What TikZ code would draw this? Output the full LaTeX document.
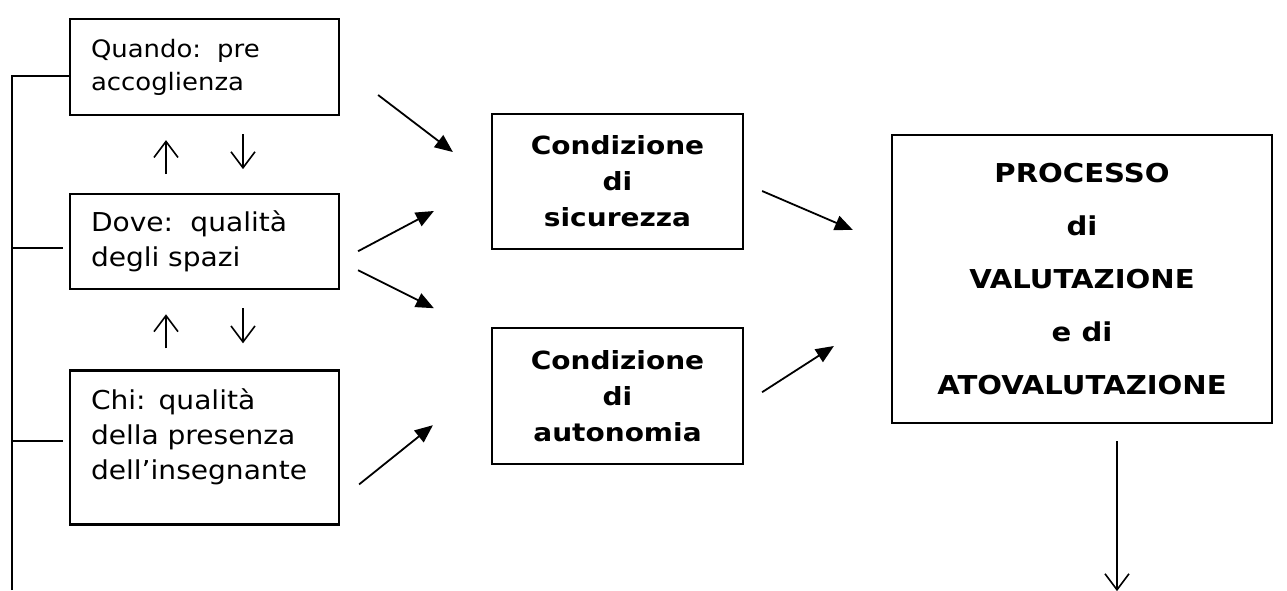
\documentclass[tikz,border=0pt]{standalone}
\usepackage{fontspec}
\setmainfont{DejaVu Sans}[FakeStretch=1.08]
\newfontfamily\headfont{DejaVu Sans Bold}[FakeStretch=1.12]
\newcommand\nohyph{\hyphenpenalty 10000\relax}
\usetikzlibrary{arrows.meta, positioning}
\tikzset {
    node distance=77pt,
    plain box/.style={draw, rectangle, line width=2.2pt, minimum width=269pt,
        text width=227pt, inner xsep=21pt, align=left,
        font=\fontsize{26}{35}\selectfont\nohyph},
    bold box/.style={draw, rectangle, line width=2.2pt, minimum width=251pt,
        minimum height=135pt, align=center,
        font=\headfont\fontsize{25}{36}\selectfont},
    link/.style={-{Triangle[length=18pt,width=15pt]}, line width=1.8pt},
    hint/.style={-{Straight Barb[length=16pt,width=24pt]}, line width=1.6pt},
    bar/.style={line width=1.9pt}
}

\begin{document}
\begin{tikzpicture}[x=1pt, y=-1pt]
    \useasboundingbox (0,0) rectangle (1287,590);

    % left column
    \node[plain box, minimum height=96pt, font=\fontsize{24}{33}\selectfont\nohyph] (quando) at (204.5,67) {Quando:\ \ pre\\accoglienza};
    \node[plain box, minimum height=95pt, below=77pt of quando] (dove) {Dove:\ \ qualità\\degli spazi};
    \node[plain box, minimum height=154pt, text depth=96pt, below=79pt of dove] (chi) {Chi: qualità\\della presenza\\dell’insegnante};

    % conditions
    \node[bold box] (sicurezza) at (617.5,181.5) {Condizione\\di\\sicurezza};
    \node[bold box, minimum height=136pt, below=77pt of sicurezza] (autonomia) {Condizione\\di\\autonomia};

    \node[bold box, minimum width=380pt, minimum height=288pt,
          font=\headfont\fontsize{26}{53}\selectfont] (processo) at (1082,279)
          {PROCESSO\\di\\VALUTAZIONE\\e di\\ATOVALUTAZIONE};

    % up and down between the boxes
    \foreach \upper in {quando, dove} {
        \draw[hint] ([shift={(-38.5,58)}]\upper.south) -- ([shift={(-38.5,24)}]\upper.south);
        \draw[hint] ([shift={(38.5,18)}]\upper.south) -- ([shift={(38.5,53)}]\upper.south);
    }

    \draw[link] ([shift={(38,28)}]quando.east) -- ([shift={(-38,-29.5)}]sicurezza.west);
    \draw[link] ([shift={(18,9.5)}]dove.east) -- ([shift={(-57,29.5)}]sicurezza.west);
    \draw[link] ([shift={(18,28.5)}]dove.east) -- ([shift={(-57,-88)}]autonomia.west);
    \draw[link] ([shift={(19,37)}]chi.east) -- ([shift={(-58,29)}]autonomia.west);
    \draw[link] ([shift={(18,9.5)}]sicurezza.east) -- ([shift={(-38,-49)}]processo.west);
    \draw[link] ([shift={(18,-4)}]autonomia.east) -- ([shift={(-57,67)}]processo.west);
    \draw[hint] ([shift={(35,17)}]processo.south) -- ([shift={(35,167)}]processo.south);

    % bracket on the left
    \coordinate (bartop) at (12,76);
    \coordinate (barend) at (12,590);
    \coordinate (dovestub) at (63,248);
    \coordinate (chistub) at (63,441);
    \draw[bar] (barend) -- (bartop) -- (bartop -| quando.west);
    \draw[bar] (dovestub -| bartop) -- (dovestub);
    \draw[bar] (chistub -| bartop) -- (chistub);
\end{tikzpicture}
\end{document}
